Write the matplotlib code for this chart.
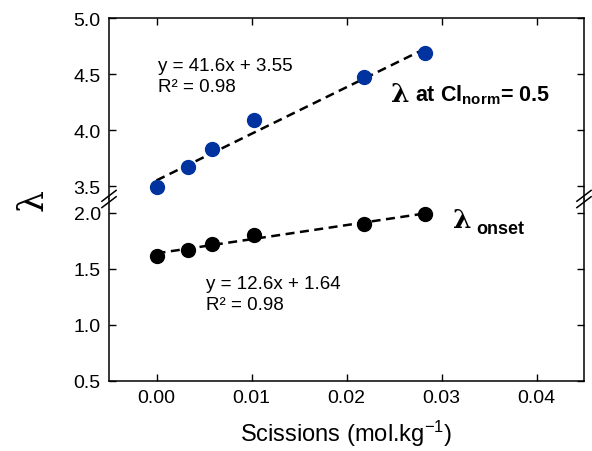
import numpy as np
import matplotlib.pyplot as plt

plt.rcParams['font.family'] = ['Liberation Sans', 'DejaVu Sans']
plt.rcParams['mathtext.fontset'] = 'custom'
plt.rcParams['mathtext.rm'] = 'Liberation Sans'
plt.rcParams['mathtext.bf'] = 'Liberation Sans:bold'
plt.rcParams['mathtext.it'] = 'Liberation Sans:italic'

# data
scissions = [0.0, 0.0033, 0.0058, 0.0103, 0.0218, 0.0283]
lam_ci = [3.49, 3.67, 3.83, 4.09, 4.47, 4.69]
lam_onset = [1.62, 1.67, 1.72, 1.80, 1.90, 1.99]

fit_ci = (41.6, 3.55)
fit_onset = (12.6, 1.64)

blue = '#0033a0'

fig = plt.figure(figsize=(5.92, 4.52), dpi=100)
left, width = 109 / 592, 475 / 592
ax_top = fig.add_axes([left, 1 - 200 / 452, width, 181 / 452])
ax_bot = fig.add_axes([left, 1 - 382 / 452, width, 182 / 452])

xfit = np.array([0.0, scissions[-1]])
ax_top.plot(xfit, fit_ci[0] * xfit + fit_ci[1], '--', color='black', lw=1.8,
            dashes=(3.6, 2.2), zorder=1)
ax_top.plot(scissions, lam_ci, 'o', color=blue, ms=10, zorder=2)
ax_bot.plot(xfit, fit_onset[0] * xfit + fit_onset[1], '--', color='black', lw=1.8,
            dashes=(3.6, 2.2), zorder=1)
ax_bot.plot(scissions, lam_onset, 'o', color='black', ms=10, zorder=2)

for ax in (ax_top, ax_bot):
    ax.set_xlim(-0.005, 0.045)
    ax.set_xticks([0.0, 0.01, 0.02, 0.03, 0.04])
    ax.tick_params(direction='in', length=5, width=1, labelsize=14, pad=6,
                   top=True, right=True)
    for s in ax.spines.values():
        s.set_linewidth(1.1)

ax_top.set_ylim(3.384, 5.0)
ax_top.set_yticks([3.5, 4.0, 4.5, 5.0])
ax_top.set_yticklabels(['3.5', '4.0', '4.5', '5.0'])
ax_top.spines['bottom'].set_visible(False)
ax_top.tick_params(bottom=False, labelbottom=False)

ax_bot.set_ylim(0.5, 2.125)
ax_bot.set_yticks([0.5, 1.0, 1.5, 2.0])
ax_bot.set_yticklabels(['0.5', '1.0', '1.5', '2.0'])
ax_bot.spines['top'].set_visible(False)
ax_bot.tick_params(top=False)
ax_bot.set_xticklabels(['0.00', '0.01', '0.02', '0.03', '0.04'])
ax_bot.set_xlabel('Scissions (mol.kg$^{-1}$)', fontsize=17, labelpad=8)

# break marks
yb = 1 - 200 / 452
for xs in (left, left + width):
    for dy in (-0.007, 0.007):
        fig.add_artist(plt.Line2D([xs - 0.012, xs + 0.012],
                                  [yb + dy - 0.012, yb + dy + 0.012],
                                  color='black', lw=1.1))

fig.text(0.055, 1 - 200 / 452, '\u03bb', family='DejaVu Serif', fontsize=25,
         rotation=90, ha='center', va='center')

ax_top.text(0.0002, 4.655, 'y = 41.6x + 3.55\nR\u00b2 = 0.98', fontsize=13.5,
            va='top', ha='left', linespacing=1.3)
ax_bot.text(0.0052, 1.445, 'y = 12.6x + 1.64\nR\u00b2 = 0.98', fontsize=13.5,
            va='top', ha='left', linespacing=1.3)

ax_top.text(0.0247, 4.33, '\u03bb', family='DejaVu Serif', fontweight='bold',
            fontsize=19, va='center', ha='left')
ax_top.text(0.0272, 4.32, r'at Cl$_{\mathbf{norm}}$= 0.5', fontweight='bold',
            fontsize=15.5, va='center', ha='left')
ax_bot.text(0.0312, 1.94, '\u03bb', family='DejaVu Serif', fontweight='bold',
            fontsize=19, va='center', ha='left')
ax_bot.text(0.0337, 1.86, 'onset', fontweight='bold', fontsize=13,
            va='center', ha='left')

fig.savefig('out.png', dpi=100)
